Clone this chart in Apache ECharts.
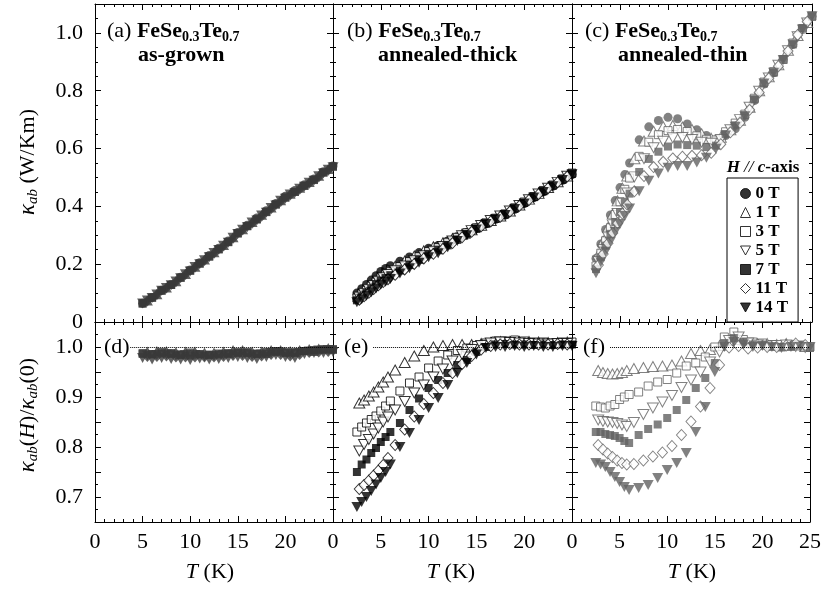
<!DOCTYPE html>
<html><head><meta charset="utf-8">
<script src="https://cdn.jsdelivr.net/npm/echarts@6/dist/echarts.min.js"></script>
<style>html,body{margin:0;padding:0;background:#fff}#c{width:824px;height:594px}</style>
</head><body><div id="c"></div>
<script>
// ---------- DATA ----------
const fields = ['0 T','1 T','3 T','5 T','7 T','11 T','14 T'];
const xTicks = [0,5,10,15,20,25];

// (a) / (d) as-grown : fields 0,3,7,14 T on integer temperatures, 1,5,11 T on half-integer ones
const tempAD    = [5,6,7,8,9,10,11,12,13,14,15,16,17,18,19,20,21,22,23,24,25];
const tempADmid = [5.5,6.5,7.5,8.5,9.5,10.5,11.5,12.5,13.5,14.5,15.5,16.5,17.5,18.5,19.5,20.5,21.5,22.5,23.5,24.5];
const a0  = [0.065,0.085,0.11,0.13,0.155,0.18,0.205,0.23,0.255,0.28,0.31,0.335,0.36,0.385,0.41,0.435,0.455,0.475,0.495,0.52,0.54];
const a1  = [0.074,0.096,0.119,0.141,0.166,0.191,0.216,0.241,0.266,0.293,0.321,0.346,0.371,0.396,0.421,0.444,0.464,0.484,0.506,0.529];
const a3  = [0.064,0.084,0.109,0.128,0.153,0.178,0.202,0.227,0.252,0.277,0.307,0.331,0.355,0.381,0.407,0.431,0.45,0.471,0.492,0.517,0.538];
const a5  = [0.074,0.095,0.118,0.14,0.165,0.19,0.214,0.239,0.264,0.291,0.319,0.344,0.368,0.394,0.419,0.441,0.461,0.482,0.504,0.527];
const a7  = [0.064,0.084,0.108,0.128,0.153,0.177,0.202,0.226,0.251,0.276,0.306,0.332,0.355,0.38,0.406,0.43,0.45,0.471,0.491,0.517,0.537];
const a11 = [0.073,0.095,0.118,0.139,0.164,0.189,0.213,0.238,0.263,0.29,0.318,0.342,0.366,0.392,0.417,0.439,0.459,0.48,0.502,0.525];
const a14 = [0.064,0.083,0.108,0.127,0.151,0.175,0.2,0.224,0.249,0.274,0.304,0.328,0.351,0.378,0.403,0.426,0.446,0.468,0.489,0.514,0.535];
const d1  = [0.991,0.992,0.992,0.99,0.991,0.991,0.989,0.989,0.991,0.994,0.994,0.991,0.991,0.994,0.994,0.992,0.994,0.996,0.997,0.998];
const d3  = [0.988,0.986,0.99,0.988,0.985,0.989,0.986,0.985,0.987,0.988,0.99,0.988,0.986,0.99,0.992,0.99,0.988,0.992,0.994,0.995,0.996];
const d5  = [0.983,0.984,0.985,0.983,0.984,0.984,0.981,0.982,0.984,0.985,0.986,0.984,0.985,0.988,0.989,0.986,0.988,0.991,0.993,0.994];
const d7  = [0.986,0.985,0.987,0.986,0.984,0.983,0.985,0.984,0.985,0.986,0.988,0.99,0.987,0.986,0.99,0.988,0.99,0.992,0.99,0.995,0.994];
const d11 = [0.981,0.981,0.982,0.98,0.98,0.98,0.98,0.98,0.981,0.983,0.983,0.981,0.982,0.985,0.985,0.982,0.985,0.989,0.99,0.991];
const d14 = [0.978,0.975,0.978,0.976,0.975,0.974,0.977,0.975,0.976,0.978,0.98,0.978,0.976,0.98,0.984,0.98,0.978,0.986,0.988,0.988,0.99];

// (b)/(c)/(e)/(f) annealed : fields 0,3,7,14 T on tempAnn, 1,5,11 T on tempAnnMid
const tempAnn    = [2.5,3,3.5,4,4.5,5,5.5,6,7,8,9,10,11,12,13,14,15,16,17,18,19,20,21,22,23,24,25];
const tempAnnMid = [2.75,3.25,3.75,4.25,4.75,5.25,5.75,6.5,7.5,8.5,9.5,10.5,11.5,12.5,13.5,14.5,15.5,16.5,17.5,18.5,19.5,20.5,21.5,22.5,23.5,24.5];
const b0  = [0.10,0.115,0.13,0.145,0.16,0.175,0.185,0.195,0.21,0.225,0.24,0.255,0.265,0.28,0.295,0.31,0.325,0.34,0.355,0.37,0.39,0.41,0.43,0.45,0.47,0.49,0.51];
const b1  = [0.096,0.11,0.124,0.139,0.154,0.168,0.179,0.193,0.211,0.228,0.246,0.26,0.274,0.289,0.304,0.319,0.335,0.351,0.367,0.384,0.405,0.425,0.445,0.465,0.485,0.505];
const b3  = [0.083,0.097,0.11,0.124,0.138,0.153,0.163,0.174,0.192,0.209,0.226,0.244,0.258,0.276,0.293,0.309,0.326,0.343,0.359,0.374,0.395,0.415,0.434,0.455,0.474,0.495,0.515];
const b5  = [0.086,0.099,0.112,0.126,0.141,0.153,0.164,0.177,0.194,0.212,0.229,0.245,0.261,0.28,0.298,0.316,0.334,0.351,0.367,0.384,0.403,0.423,0.443,0.463,0.483,0.504];
const b7  = [0.075,0.088,0.101,0.114,0.128,0.142,0.152,0.162,0.178,0.197,0.215,0.234,0.248,0.265,0.284,0.302,0.322,0.34,0.357,0.372,0.392,0.412,0.432,0.452,0.472,0.492,0.513];
const b11 = [0.077,0.089,0.101,0.114,0.127,0.138,0.148,0.163,0.182,0.201,0.22,0.236,0.253,0.273,0.293,0.312,0.331,0.348,0.364,0.382,0.402,0.422,0.442,0.463,0.483,0.503];
const b14 = [0.068,0.079,0.091,0.103,0.116,0.129,0.139,0.149,0.168,0.186,0.205,0.224,0.238,0.259,0.28,0.3,0.32,0.339,0.355,0.37,0.391,0.41,0.431,0.45,0.47,0.491,0.511];
const e1  = [0.888,0.894,0.902,0.91,0.92,0.93,0.94,0.954,0.969,0.982,0.993,1.0,1.003,1.005,1.005,1.005,1.007,1.009,1.011,1.011,1.011,1.011,1.01,1.009,1.009,1.01];
const e3  = [0.83,0.84,0.848,0.855,0.862,0.872,0.882,0.892,0.912,0.928,0.94,0.958,0.972,0.984,0.993,0.998,1.003,1.008,1.012,1.012,1.014,1.012,1.01,1.01,1.008,1.01,1.01];
const e5  = [0.792,0.805,0.815,0.826,0.838,0.85,0.86,0.874,0.891,0.908,0.924,0.94,0.956,0.972,0.985,0.995,1.003,1.008,1.01,1.009,1.008,1.007,1.006,1.006,1.007,1.007];
const e7  = [0.75,0.765,0.775,0.788,0.798,0.81,0.82,0.83,0.848,0.874,0.897,0.918,0.934,0.948,0.964,0.974,0.99,1.0,1.005,1.006,1.005,1.005,1.004,1.005,1.004,1.005,1.005];
const e11 = [0.716,0.724,0.733,0.743,0.753,0.764,0.778,0.804,0.835,0.861,0.886,0.908,0.928,0.948,0.966,0.982,0.995,1.002,1.005,1.006,1.005,1.005,1.005,1.005,1.006,1.005];
const e14 = [0.68,0.69,0.7,0.712,0.725,0.738,0.75,0.765,0.8,0.828,0.854,0.878,0.898,0.924,0.948,0.968,0.985,0.998,1.0,1.0,1.002,1.0,1.002,1.0,1.0,1.002,1.002];

const c0  = [0.22,0.27,0.32,0.37,0.42,0.465,0.51,0.55,0.63,0.675,0.697,0.708,0.703,0.685,0.665,0.645,0.63,0.645,0.668,0.708,0.766,0.823,0.862,0.908,0.96,1.012,1.058];
const c1  = [0.234,0.28,0.327,0.374,0.419,0.463,0.505,0.565,0.626,0.66,0.676,0.68,0.674,0.666,0.651,0.635,0.639,0.665,0.698,0.743,0.8,0.848,0.89,0.94,0.991,1.036];
const c3  = [0.194,0.238,0.281,0.326,0.372,0.416,0.459,0.498,0.573,0.622,0.648,0.662,0.666,0.659,0.644,0.632,0.63,0.658,0.688,0.719,0.774,0.83,0.866,0.908,0.965,1.014,1.058];
const c5  = [0.209,0.251,0.294,0.336,0.375,0.411,0.446,0.502,0.565,0.603,0.625,0.637,0.638,0.631,0.622,0.618,0.631,0.665,0.7,0.743,0.798,0.844,0.888,0.938,0.987,1.034];
const c7  = [0.183,0.224,0.264,0.305,0.345,0.38,0.414,0.444,0.519,0.564,0.589,0.607,0.614,0.612,0.61,0.605,0.61,0.65,0.68,0.715,0.77,0.825,0.862,0.908,0.96,1.017,1.056];
const c11 = [0.197,0.235,0.272,0.308,0.342,0.375,0.406,0.452,0.505,0.536,0.554,0.566,0.572,0.575,0.577,0.585,0.615,0.656,0.689,0.734,0.794,0.843,0.885,0.937,0.993,1.039];
const c14 = [0.169,0.207,0.243,0.278,0.311,0.339,0.367,0.393,0.452,0.489,0.514,0.534,0.54,0.54,0.552,0.568,0.599,0.645,0.675,0.712,0.766,0.825,0.862,0.906,0.96,1.012,1.058];
const f1  = [0.953,0.949,0.947,0.946,0.947,0.949,0.953,0.957,0.959,0.961,0.962,0.964,0.972,0.987,0.993,0.995,1.003,1.013,1.015,1.008,1.007,1.007,1.005,1.007,1.005,1.001];
const f3  = [0.882,0.88,0.878,0.882,0.885,0.895,0.9,0.905,0.91,0.922,0.93,0.935,0.948,0.962,0.968,0.98,1.0,1.02,1.03,1.015,1.01,1.008,1.005,1.0,1.005,1.002,1.0];
const f5  = [0.854,0.851,0.85,0.849,0.847,0.844,0.841,0.849,0.865,0.878,0.89,0.903,0.919,0.934,0.95,0.97,0.99,1.013,1.02,1.008,1.004,1.002,1.003,1.004,1.001,0.999];
const f7  = [0.83,0.83,0.826,0.824,0.822,0.818,0.812,0.808,0.824,0.836,0.845,0.858,0.874,0.894,0.918,0.938,0.968,1.008,1.018,1.01,1.005,1.003,1.0,1.0,1.0,1.005,0.998];
const f11 = [0.804,0.795,0.787,0.78,0.773,0.768,0.765,0.766,0.773,0.781,0.789,0.802,0.824,0.851,0.881,0.918,0.964,0.999,1.002,0.997,0.999,1.0,1.0,1.003,1.007,1.004];
const f14 = [0.768,0.765,0.76,0.75,0.74,0.73,0.72,0.714,0.718,0.724,0.738,0.754,0.768,0.788,0.83,0.88,0.95,1.0,1.01,1.005,1.0,1.002,1.0,0.998,1.0,1.0,1.0];

const refLineStart = [3.7, 4.2, 4.0]; // where dotted 1.0 line starts in (d),(e),(f)

// ---------- STYLE ----------
const SERIF = 'Liberation Serif';
const DOWN = 'path://M0,0L10,0L5,9Z';
const symDefs = {
  '0 T':  {symbol:'circle',   size:9,       filled:true},
  '1 T':  {symbol:'triangle', size:[11,10], filled:false},
  '3 T':  {symbol:'rect',     size:8,       filled:false},
  '5 T':  {symbol:DOWN,       size:[11,10], filled:false},
  '7 T':  {symbol:'rect',     size:8,       filled:true},
  '11 T': {symbol:'diamond',  size:[10,11], filled:false},
  '14 T': {symbol:DOWN,       size:[11,10], filled:true}
};
const panelColor = ['#3a3a3a','#000000','#626262'];
const allFilled  = [true,false,false];

const cols = [{left:95,width:238},{left:333,width:239},{left:572,width:240}];
const rows = [{top:4,height:318},{top:322,height:200}];

const grids = [];
rows.forEach(r => cols.forEach(c => grids.push({left:c.left, top:r.top, width:c.width, height:r.height, containLabel:false})));

const xAxes = [], yAxes = [];
const axisLine = {show:true, onZero:false, lineStyle:{color:'#000', width:1}};
const labelStyle = {fontFamily:SERIF, fontSize:22, color:'#000'};
for (let g = 0; g < 6; g++) {
  const row = Math.floor(g/3), col = g%3;
  const baseX = {type:'value', gridIndex:g, min:xTicks[0], max:xTicks[xTicks.length-1], interval:5,
    axisLine, splitLine:{show:false},
    axisTick:{show:true, inside:true, length:6, lineStyle:{color:'#000'}},
    minorTick:{show:true, splitNumber:5, length:3, lineStyle:{color:'#000'}}};
  xAxes.push(Object.assign({}, baseX, {position:'bottom',
    axisLabel: row===1 ? Object.assign({show:true, margin:9, showMinLabel:true, showMaxLabel: col===2}, labelStyle) : {show:false}}));
  const yBase = row===0
    ? {min:0, max:1.1, interval:0.2, minorTick:{show:true, splitNumber:4, length:3, lineStyle:{color:'#000'}},
       fmt: v => v > 1.05 ? '' : (v === 0 ? '0' : v.toFixed(1))}
    : {min:0.65, max:1.05, interval:0.05, minorTick:{show:true, splitNumber:2, length:3, lineStyle:{color:'#000'}},
       fmt: v => { const r = Math.round(v*100); return (r%10===0 && r>=70 && r<=100) ? v.toFixed(1) : ''; }};
  yAxes.push({type:'value', gridIndex:g, position:'left', min:yBase.min, max:yBase.max, interval:yBase.interval,
    axisLine, splitLine:{show:false},
    axisTick:{show:true, inside:true, length:6, lineStyle:{color:'#000'}}, minorTick:yBase.minorTick,
    axisLabel: col===0 ? Object.assign({show:true, margin:12, formatter:yBase.fmt, showMinLabel:true, showMaxLabel:true}, labelStyle) : {show:false}});
  xAxes.push(Object.assign({}, baseX, {position:'top', axisLabel:{show:false}}));
  yAxes.push({type:'value', gridIndex:g, position:'right', min:yBase.min, max:yBase.max, interval:yBase.interval,
    axisLine, splitLine:{show:false},
    axisTick:{show:true, inside:true, length:6, lineStyle:{color:'#000'}}, minorTick:yBase.minorTick,
    axisLabel:{show:false}});
}

const series = [];
function addPanel(g, colIdx, temps, valuesByField) {
  let first = true;
  fields.forEach((f, k) => {
    const Y = valuesByField[k];
    if (!Y) return;
    const T = temps[k];
    const sd = symDefs[f];
    const color = panelColor[colIdx];
    const filled = allFilled[colIdx] || sd.filled;
    const s = {
      type:'scatter', name:f, xAxisIndex:2*g, yAxisIndex:2*g,
      symbol:sd.symbol, symbolSize:sd.size,
      itemStyle:{color: filled ? color : '#ffffff', borderColor: color, borderWidth: filled ? 0 : 1},
      emphasis:{disabled:true},
      data: T.map((t,i) => [t, Y[i]])
    };
    if (g >= 3 && first) {
      s.markLine = {silent:true, symbol:['none','none'], label:{show:false}, animation:false,
        lineStyle:{type:'dotted', color:'#000', width:1},
        data:[[{coord:[refLineStart[g-3], 1]}, {coord:[xTicks[xTicks.length-1], 1]}]]};
    }
    first = false;
    series.push(s);
  });
}
const TA = [tempAD, tempADmid, tempAD, tempADmid, tempAD, tempADmid, tempAD];
const TB = [tempAnn, tempAnnMid, tempAnn, tempAnnMid, tempAnn, tempAnnMid, tempAnn];
// (b) first so that the legend uses the black symbols
addPanel(1, 1, TB, [b0,b1,b3,b5,b7,b11,b14]);
addPanel(0, 0, TA, [a0,a1,a3,a5,a7,a11,a14]);
addPanel(2, 2, TB, [c0,c1,c3,c5,c7,c11,c14]);
addPanel(3, 0, TA, [null,d1,d3,d5,d7,d11,d14]);
addPanel(4, 1, TB, [null,e1,e3,e5,e7,e11,e14]);
addPanel(5, 2, TB, [null,f1,f3,f5,f7,f11,f14]);

const rich = {
  n:{fontFamily:SERIF, fontSize:22, lineHeight:26, color:'#000', verticalAlign:'middle'},
  b:{fontFamily:SERIF, fontSize:22, lineHeight:26, color:'#000', fontWeight:'bold', verticalAlign:'middle'},
  s:{fontFamily:SERIF, fontSize:14, lineHeight:14, color:'#000', fontWeight:'bold', verticalAlign:'bottom'},
  i:{fontFamily:SERIF, fontSize:22, lineHeight:26, color:'#000', fontStyle:'italic', verticalAlign:'middle'},
  k:{fontFamily:SERIF, fontSize:23, lineHeight:26, color:'#000', fontStyle:'italic', verticalAlign:'middle'},
  si:{fontFamily:SERIF, fontSize:15, lineHeight:15, color:'#000', fontStyle:'italic', verticalAlign:'bottom'},
  hb:{fontFamily:SERIF, fontSize:17, lineHeight:20, color:'#000', fontStyle:'italic', fontWeight:'bold', verticalAlign:'middle'},
  hi:{fontFamily:SERIF, fontSize:17, lineHeight:20, color:'#000', fontStyle:'italic', verticalAlign:'middle'},
  hn:{fontFamily:SERIF, fontSize:17, lineHeight:20, color:'#000', fontWeight:'bold', verticalAlign:'middle'}
};
function txt(x, y, text) {
  return {type:'text', x, y, z:100, style:{text, rich, align:'left', verticalAlign:'top'}};
}
const titleText = '{b|FeSe}{s|0.3}{b|Te}{s|0.7}';
const graphics = [
  txt(107, 18, '{n|(a) }' + titleText), txt(138, 42, '{b|as-grown}'),
  txt(347, 18, '{n|(b) }' + titleText), txt(378, 42, '{b|annealed-thick}'),
  txt(585, 18, '{n|(c) }' + titleText), txt(618, 42, '{b|annealed-thin}'),
  txt(104, 334, '{n|(d)}'), txt(344, 334, '{n|(e)}'), txt(583, 334, '{n|(f)}'),
  {type:'text', x:28, y:162, rotation:Math.PI/2, z:100,
   style:{text:'{k|κ}{si|ab}{n| (W/Km)}', rich, align:'center', verticalAlign:'middle'}},
  {type:'text', x:28, y:415, rotation:Math.PI/2, z:100,
   style:{text:'{k|κ}{si|ab}{n|(}{i|H}{n|)/}{k|κ}{si|ab}{n|(0)}', rich, align:'center', verticalAlign:'middle'}},
  {type:'text', x:210, y:572, z:100, style:{text:'{i|T}{n| (K)}', rich, align:'center', verticalAlign:'middle'}},
  {type:'text', x:451, y:572, z:100, style:{text:'{i|T}{n| (K)}', rich, align:'center', verticalAlign:'middle'}},
  {type:'text', x:692, y:572, z:100, style:{text:'{i|T}{n| (K)}', rich, align:'center', verticalAlign:'middle'}},
  {type:'text', x:763, y:168, z:100, style:{text:'{hb|H}{hi| // }{hb|c}{hn|-axis}', rich, align:'center', verticalAlign:'middle'}}
];

const chart = echarts.init(document.getElementById('c'), null, {renderer:'canvas'});
chart.setOption({
  animation:false,
  backgroundColor:'#fff',
  grid:grids, xAxis:xAxes, yAxis:yAxes, series,
  legend:{data:fields, orient:'vertical', left:727, top:178, itemWidth:10, itemHeight:10, itemGap:2,
    padding:[7,10,6,13], borderColor:'#000', borderWidth:1, backgroundColor:'#fff',
    itemStyle:{borderWidth:1}, selectedMode:false,
    textStyle:{fontFamily:SERIF, fontSize:17, fontWeight:'bold', color:'#000'}},
  graphic:graphics
});
</script></body></html>
